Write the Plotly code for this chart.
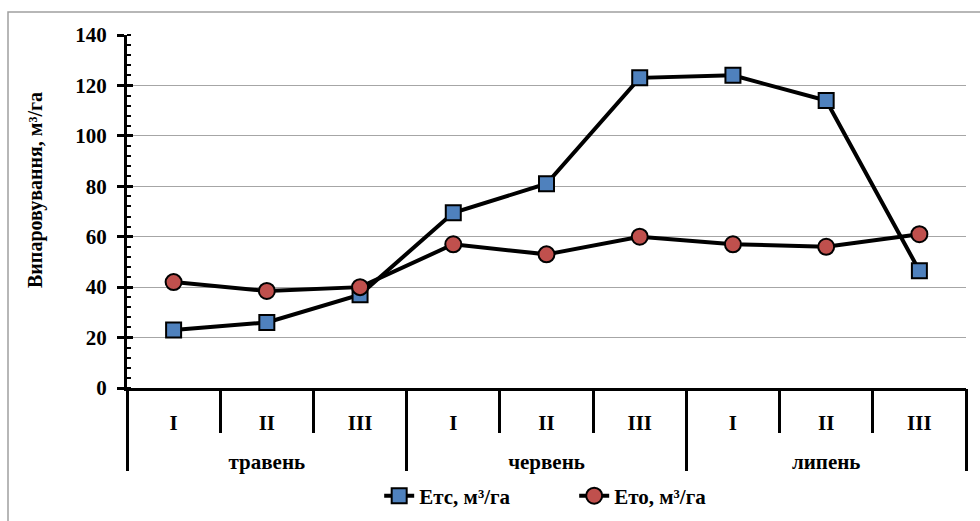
import plotly.graph_objects as go

months = ["травень", "червень", "липень"]
decades = ["I", "II", "III", "I", "II", "III", "I", "II", "III"]
etc_vals = [23, 26, 37, 69.5, 81, 123, 124, 114, 46.5]
eto_vals = [42, 38.5, 40, 57, 53, 60, 57, 56, 61]
y_title = "Випаровування, м³/га"

FONT = "Liberation Serif"
L, R, T, B = 127, 14, 35, 133
W, H = 980, 521
pw, ph = W - L - R, H - T - B

pos = list(range(len(decades)))
n_per_month = len(decades) // len(months)
month_pos = [i * n_per_month + (n_per_month - 1) / 2 for i in range(len(months))]
xr = [-0.5, len(decades) - 0.5]

fig = go.Figure()
fig.add_trace(go.Scatter(
    x=pos, y=etc_vals, name="<b>Етс, м³/га</b>",
    mode="lines+markers",
    line=dict(color="black", width=4),
    marker=dict(symbol="square", size=15, color="#4F81BD", line=dict(color="black", width=2)),
))
fig.add_trace(go.Scatter(
    x=pos, y=eto_vals, name="<b>Ето, м³/га</b>",
    mode="lines+markers",
    line=dict(color="black", width=4),
    marker=dict(symbol="circle", size=16, color="#C0504D", line=dict(color="black", width=2)),
))
fig.add_trace(go.Scatter(x=[None], y=[None], xaxis="x2", yaxis="y2",
                         showlegend=False, hoverinfo="skip"))

fig.update_layout(
    width=W, height=H,
    margin=dict(l=L, r=R, t=T, b=B, autoexpand=False),
    paper_bgcolor="white", plot_bgcolor="white",
    font=dict(family=FONT, size=18, color="black"),
    showlegend=True,
    legend=dict(orientation="h", x=0.533, xanchor="center", y=-0.248, yanchor="top",
                font=dict(family=FONT, size=21, color="black"),
                entrywidth=150, entrywidthmode="pixels", itemwidth=30),
    xaxis=dict(
        range=xr, automargin=False,
        tickvals=pos, ticktext=decades, ticks="",
        ticklabelstandoff=14,
        showline=True, linecolor="black", linewidth=3,
        minor=dict(tick0=-0.5, dtick=1, ticks="outside", ticklen=42, tickwidth=3,
                   tickcolor="black", showgrid=False),
        tickfont=dict(family=FONT, size=21, color="black", weight="bold"),
        showgrid=False, zeroline=False,
    ),
    xaxis2=dict(
        overlaying="x", anchor="y", side="bottom", range=xr, automargin=False,
        tickvals=month_pos, ticktext=months, ticks="",
        ticklabelstandoff=59,
        showline=False,
        minor=dict(tick0=-0.5, dtick=n_per_month, ticks="outside", ticklen=82, tickwidth=3,
                   tickcolor="black", showgrid=False),
        tickfont=dict(family=FONT, size=21, color="black", weight="bold"),
        showgrid=False, zeroline=False,
    ),
    yaxis=dict(
        range=[0, 140], dtick=20, automargin=False,
        showline=True, linecolor="black", linewidth=3,
        ticks="outside", ticklen=7, tickwidth=3, tickcolor="black",
        ticklabelstandoff=6,
        minor=dict(ticks="inside", dtick=4, ticklen=4, tickwidth=2, tickcolor="black", showgrid=False),
        showgrid=True, gridcolor="#a6a6a6", gridwidth=1,
        zeroline=False,
        tickfont=dict(family=FONT, size=21, color="black", weight="bold"),
    ),
    yaxis2=dict(
        overlaying="y", range=[0, 140], dtick=20, showticklabels=False, automargin=False,
        ticks="inside", ticklen=6, tickwidth=3, tickcolor="black", showgrid=False,
        zeroline=False, showline=False, side="left",
    ),
    annotations=[dict(
        text="<b>" + y_title + "</b>", textangle=-90,
        xref="paper", yref="paper", x=(35 - L) / pw, y=(H - B - 190) / ph,
        xanchor="center", yanchor="middle", showarrow=False,
        font=dict(family=FONT, size=20, color="black"),
    )],
    shapes=[dict(
        type="rect", xref="paper", yref="paper",
        x0=(8 - L) / pw, x1=(1000 - L) / pw,
        y0=(H - B - 540) / ph, y1=(H - B - 12) / ph,
        line=dict(color="#a0a0a0", width=1.5), fillcolor="rgba(0,0,0,0)", layer="below",
    )],
)

fig.write_html("out.html", config={"displayModeBar": False},
               post_script="document.body.style.margin='0';document.body.style.overflow='hidden';")
